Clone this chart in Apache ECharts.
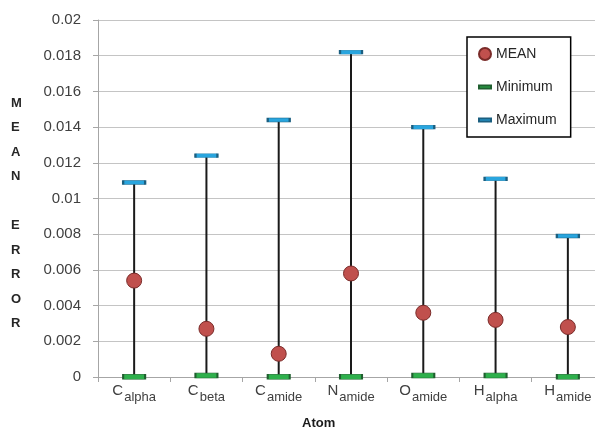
<!DOCTYPE html>
<html>
<head>
<meta charset="utf-8">
<script src="https://cdn.jsdelivr.net/npm/echarts@6/dist/echarts.min.js"></script>
<style>
  html, body { margin: 0; padding: 0; background: #fff; }
  #chart { width: 595px; height: 432px; }
</style>
</head>
<body>
<div id="chart"></div>
<script>
// Atom types: first letter is the element, the rest is drawn as a subscript
const categories = ['Calpha', 'Cbeta', 'Camide', 'Namide', 'Oamide', 'Halpha', 'Hamide'];
const meanVals = [0.0054, 0.0027, 0.0013, 0.0058, 0.0036, 0.0032, 0.0028];
const minVals  = [0.00002, 0.00008, 0.00002, 0.00002, 0.00008, 0.00008, 0.00002];
const maxVals  = [0.0109, 0.0124, 0.0144, 0.0182, 0.0140, 0.0111, 0.0079];
const yTicks   = [0, 0.002, 0.004, 0.006, 0.008, 0.01, 0.012, 0.014, 0.016, 0.018, 0.02];

const FONT = '"Liberation Sans", Arial, sans-serif';
const chart = echarts.init(document.getElementById('chart'));

const rangeData = categories.map((c, i) => [i, minVals[i], maxVals[i]]);

chart.setOption({
  animation: false,
  backgroundColor: '#ffffff',
  textStyle: { fontFamily: FONT },
  // the plot area runs a little past the right edge of the canvas
  grid: { left: 98, top: 20, width: 506, height: 357, containLabel: false, outerBoundsMode: 'none' },
  xAxis: {
    type: 'category',
    data: categories,
    boundaryGap: true,
    axisLine: { lineStyle: { color: '#a6a6a6', width: 1 } },
    axisTick: { show: true, interval: 0, length: 5, lineStyle: { color: '#a6a6a6' } },
    axisLabel: {
      interval: 0,
      margin: 6,
      formatter: v => '{b|' + v.charAt(0) + '}{s|' + v.slice(1) + '}',
      rich: {
        b: { fontSize: 15, color: '#404040', fontFamily: FONT, padding: [0, 0, 6, 0] },
        s: { fontSize: 13, color: '#404040', fontFamily: FONT, padding: [8, 0, 0, 1] }
      }
    },
    splitLine: { show: false }
  },
  yAxis: {
    type: 'value',
    min: 0,
    max: 0.02,
    interval: 0.002,
    axisLine: { show: true, lineStyle: { color: '#a6a6a6', width: 1 } },
    axisTick: { show: true, length: 5, lineStyle: { color: '#a6a6a6' } },
    axisLabel: {
      margin: 17,
      fontSize: 15,
      color: '#404040',
      fontFamily: FONT,
      formatter: v => {
        const t = yTicks.find(k => Math.abs(k - v) < 1e-9);
        return String(t !== undefined ? t : +v.toFixed(3));
      }
    },
    splitLine: { show: true, lineStyle: { color: '#c4c4c4', width: 1 } }
  },
  legend: {
    orient: 'vertical',
    left: 467,
    top: 37,
    padding: [9, 14, 9, 11],
    itemGap: 17,
    itemWidth: 12,
    itemHeight: 12,
    borderColor: '#000000',
    borderWidth: 1.5,
    backgroundColor: '#ffffff',
    textStyle: { fontSize: 14, color: '#262626', fontFamily: FONT, lineHeight: 16 },
    data: [
      { name: 'MEAN', icon: 'circle' },
      { name: 'Minimum', icon: 'path://M0,0M0,4.5h12v3h-12zM12,12' },
      { name: 'Maximum', icon: 'path://M0,0M0,4.5h12v3h-12zM12,12' }
    ]
  },
  graphic: [
    {
      type: 'text',
      left: 11,
      top: 91,
      style: {
        text: 'M\nE\nA\nN\n\nE\nR\nR\nO\nR',
        font: 'bold 13px ' + FONT,
        fill: '#262626',
        lineHeight: 24.5,
        align: 'center'
      }
    },
    {
      type: 'text',
      left: 302,
      top: 417,
      style: { text: 'Atom', font: 'bold 13px ' + FONT, fill: '#1a1a1a' }
    }
  ],
  series: [
    {
      name: 'range',
      type: 'custom',
      data: rangeData,
      z: 2,
      renderItem: (params, api) => {
        const p0 = api.coord([api.value(0), api.value(1)]);
        const p1 = api.coord([api.value(0), api.value(2)]);
        return {
          type: 'line',
          shape: { x1: p0[0], y1: p0[1], x2: p1[0], y2: p1[1] },
          style: { stroke: '#1a1a1a', lineWidth: 2 }
        };
      },
      encode: { x: 0, y: [1, 2] }
    },
    {
      name: 'Minimum',
      type: 'scatter',
      data: minVals,
      symbol: 'rect',
      symbolSize: [22, 5],
      z: 3,
      itemStyle: { color: '#2eb04c', borderColor: '#1f5f2f', borderWidth: 1, opacity: 1 }
    },
    {
      name: 'Maximum',
      type: 'scatter',
      data: maxVals,
      symbol: 'rect',
      symbolSize: [22, 4],
      z: 3,
      itemStyle: { color: '#29a5de', borderColor: '#1b5f80', borderWidth: 1, opacity: 1 }
    },
    {
      name: 'MEAN',
      type: 'scatter',
      data: meanVals,
      symbol: 'circle',
      symbolSize: 15,
      z: 4,
      itemStyle: { color: '#c0504d', borderColor: '#7a2b29', borderWidth: 1, opacity: 1 }
    }
  ]
});
</script>
</body>
</html>
